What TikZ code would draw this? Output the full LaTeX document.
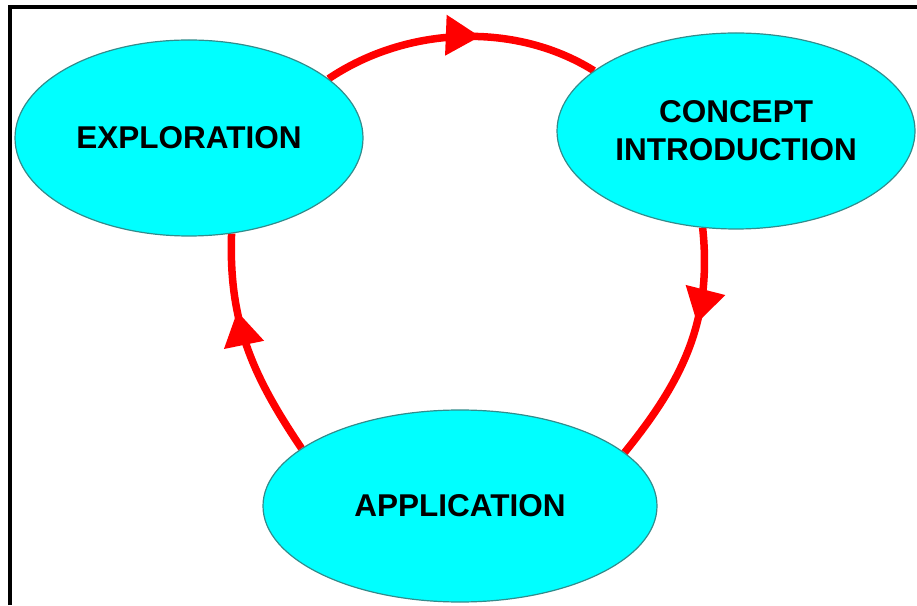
\documentclass[tikz,border=0pt]{standalone}
\usepackage{fontspec}
\setmainfont{Liberation Sans}
\usetikzlibrary{shapes.geometric,arrows.meta,decorations.markings,backgrounds}
\definecolor{bubble}{RGB}{0,255,255}
\definecolor{rim}{RGB}{50,140,140}
\definecolor{loopred}{RGB}{255,0,0}
\tikzset{
	stage/.style={ellipse, draw=rim, line width=1.2pt, fill=bubble, inner sep=0pt, align=center,
		font=\bfseries\fontsize{31.5}{38}\selectfont},
	cycle/.style={draw=loopred, line width=7.5pt, postaction={decorate},
		decoration={markings, mark=at position #1 with {\arrow{Triangle[length=34pt,width=41pt,line width=0pt]}}}},
}

\begin{document}
\begin{tikzpicture}[x=1pt,y=1pt]
		%%%%% START %%%%%
		\useasboundingbox (0,0) rectangle (917,605);
		\draw[line width=4pt] (10,0) -- (10,598) -- (917,598);
		
		\node[stage, minimum width=348pt, minimum height=196pt] (explore) at (189,467) {EXPLORATION};
		\node[stage, minimum width=358pt, minimum height=196pt] (concept) at (736,474) {CONCEPT\\INTRODUCTION};
		\node[stage, minimum width=394pt, minimum height=192pt] (apply) at (460,99) {APPLICATION};
		
		\begin{scope}[on background layer]
			\draw[cycle=0.57] (explore.23) to[out=34, in=148, looseness=0.9] (concept.157);
			\draw[cycle=0.39] (concept.251) to[out=-84, in=51] (apply.18);
			\draw[cycle=0.66] (apply.160) to[out=124, in=268] (explore.294);
		\end{scope}
		%%%%% END %%%%%
\end{tikzpicture}
\end{document}
